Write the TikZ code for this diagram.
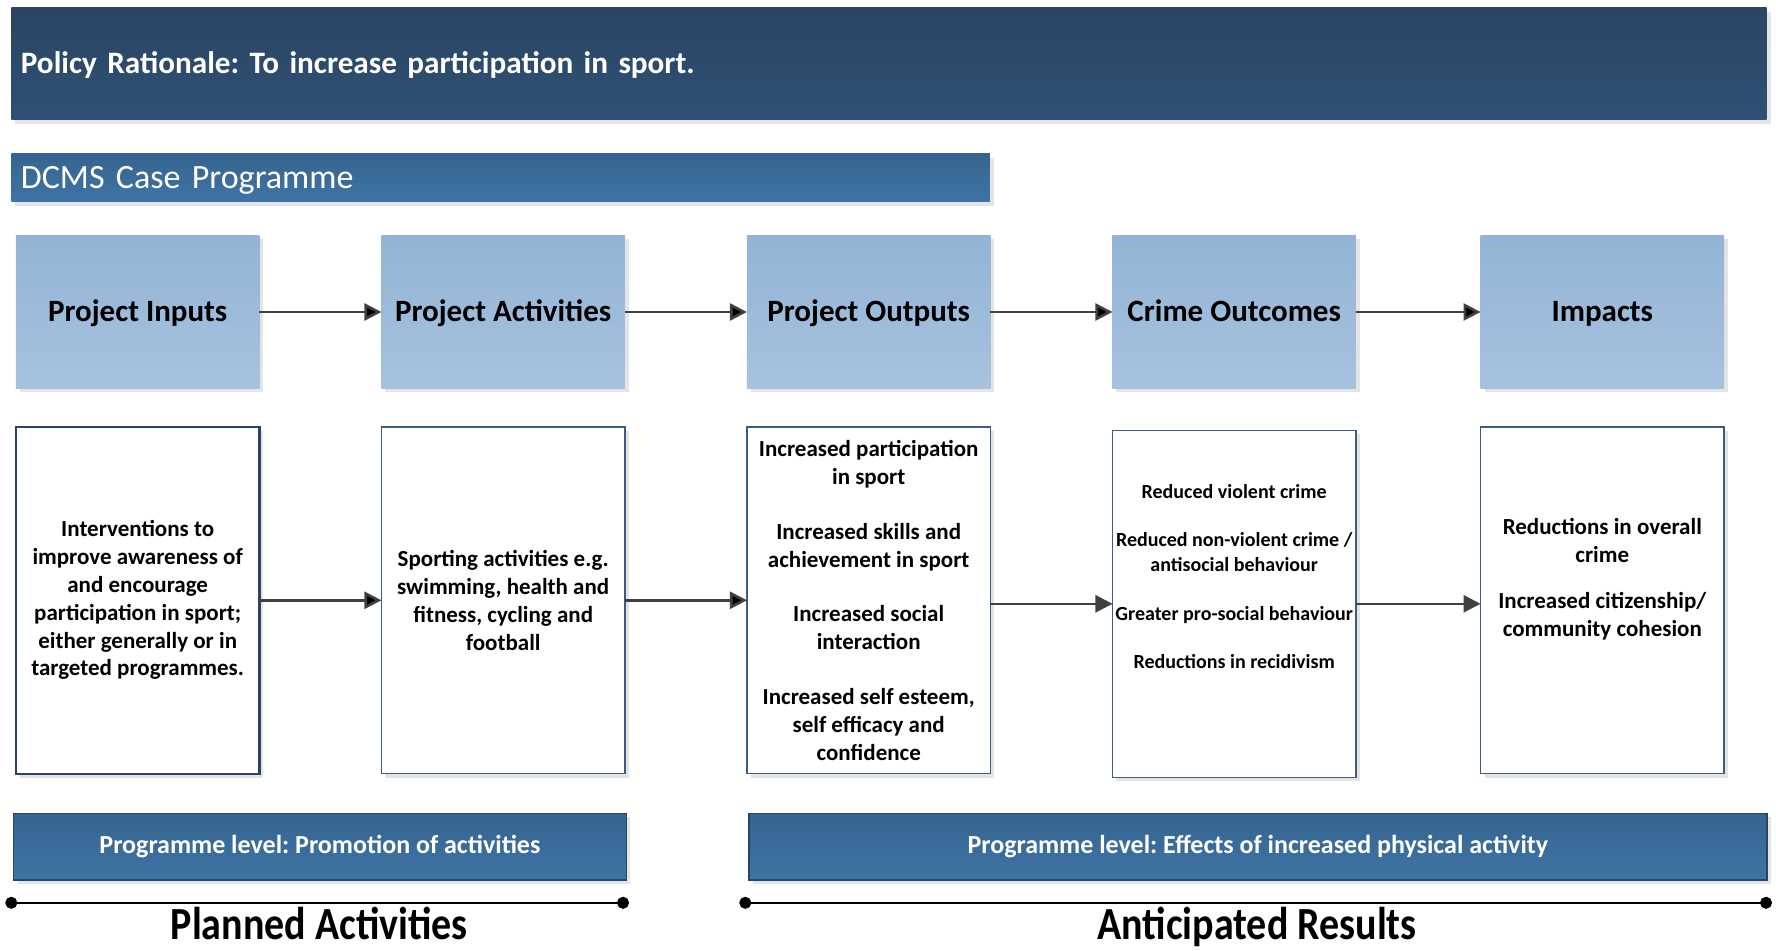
\documentclass[tikz,border=0pt]{standalone}
\usepackage{fontspec}
\setmainfont{Carlito}
\frenchspacing
\usetikzlibrary{positioning,arrows.meta,shadows}
\definecolor{bannertop}{HTML}{2A4564}
\definecolor{bannerbot}{HTML}{2F5074}
\definecolor{progtop}{HTML}{36648E}
\definecolor{progbot}{HTML}{3F74A6}
\definecolor{headtop}{HTML}{93B4D6}
\definecolor{headbot}{HTML}{A6C2DE}
\definecolor{boxline}{HTML}{3E5C7E}
\definecolor{arrowgrey}{HTML}{404040}

\begin{document}
\begin{tikzpicture}[x=0.5pt, y=-0.5pt, node distance=61pt, thick, outer sep=0pt,
	boxshadow/.style={drop shadow={shadow xshift=2pt, shadow yshift=-2pt, fill=black!30, opacity=0.35}},
	banner/.style={rectangle, anchor=north west, top color=bannertop, bottom color=bannerbot, text=white, align=left, inner xsep=4.8pt, text depth=0pt, boxshadow},
	main node/.style={rectangle, top color=headtop, bottom color=headbot, minimum width=121.75pt, minimum height=76.5pt, inner sep=0pt, text height=10pt, text depth=0pt, font=\bfseries\fontsize{15.5}{18}\selectfont, boxshadow},
	text box/.style={rectangle, draw=boxline, line width=0.6pt, fill=white, minimum width=121.75pt, minimum height=173.3pt, inner xsep=0pt, align=center, font=\bfseries\fontsize{11.5}{13.9}\selectfont, boxshadow},
	level node/.style={rectangle, draw=bannertop, line width=0.7pt, top color=progtop, bottom color=progbot, text=white, minimum height=33.35pt, font=\bfseries\fontsize{13}{15}\selectfont, boxshadow},
	flow/.style={draw=arrowgrey, line width=1.3pt, -{Triangle[length=8.5pt,width=8.5pt]}},
	spanline/.style={line width=0.8pt, {Circle[length=6pt]}-{Circle[length=6pt]}, shorten <=-3pt, shorten >=-3pt},
	title node/.style={font=\bfseries\fontsize{20}{24}\selectfont, anchor=base, inner sep=0pt}]

	\useasboundingbox (0,0) rectangle (1776,951);

	\node[banner, text width=868pt, minimum height=56pt, text height=10pt, font=\bfseries\fontsize{15.6}{19}\selectfont] (policy) at (11.3,8) {Policy Rationale: To increase participation in sport.};
	\node[banner, text width=479.7pt, minimum height=23.8pt, text height=11pt, top color=progtop, bottom color=progbot, font=\fontsize{17}{20}\selectfont] (dcms) at (11.3,154) {DCMS Case Programme};

	\node[main node] (1) at (137.7,312) {Project Inputs};
	\node[main node] (2) [right=of 1] {Project Activities};
	\node[main node] (3) [right=of 2] {Project Outputs};
	\node[main node] (4) [right=of 3] {Crime Outcomes};
	\node[main node] (5) [right=62.3pt of 4] {Impacts};

	\node[text box, draw=bannertop, line width=1.1pt] (1b) [below=19.25pt of 1] {Interventions to\\improve awareness of\\and encourage\\participation in sport;\\either generally or in\\targeted programmes.};
	\node[text box] (2b) [below=19.25pt of 2] {Sporting activities e.g.\\swimming, health and\\fitness, cycling and\\football};
	\node[text box] (3b) [below=19.25pt of 3] {Increased participation\\in sport\\[13.5pt]Increased skills and\\achievement in sport\\[13.5pt]Increased social\\interaction\\[13.5pt]Increased self esteem,\\self efficacy and\\confidence};
	\node[text box, font=\bfseries\fontsize{10}{12.5}\selectfont] (4b) [below=21pt of 4] {Reduced violent crime\\[11.8pt]Reduced non-violent crime /\\antisocial behaviour\\[11.8pt]Greater pro-social behaviour\\[11.8pt]Reductions in recidivism\\[14.8pt]\mbox{}};
	\node[text box] (5b) [below=19.25pt of 5] {Reductions in overall\\crime\\[9pt]Increased citizenship/\\community cohesion\\[9pt]\mbox{}};

	\node[level node, minimum width=306.4pt] (promo) at (320,846.7) {Programme level: Promotion of activities};
	\node[level node, minimum width=509pt] (effects) at (1257.9,846.7) {Programme level: Effects of increased physical activity};

	\coordinate (pa1) at (11.3,902.8);
	\coordinate (pa2) at (623,902.8);
	\coordinate (ar1) at (745.3,902.8);
	\coordinate (ar2) at (1766,902.8);
	\draw[spanline] (pa1) -- (pa2);
	\draw[spanline] (ar1) -- (ar2);

	\node[title node] (planned) at (319.4,939) {\scalebox{1}[1.15]{Planned Activities}};
	\node[title node] (anticipated) at (1257,939) {\scalebox{1}[1.15]{Anticipated Results}};

	\path[flow]
	(1) edge (2)
	(2) edge (3)
	(3) edge (4)
	(4) edge (5)
	(1b) edge (2b)
	(2b) edge (3b);
	\draw[flow] (3b.east |- 4b.west) -- (4b.west);
	\draw[flow] (4b.east) -- (4b.east -| 5b.west);

\end{tikzpicture}
\end{document}
